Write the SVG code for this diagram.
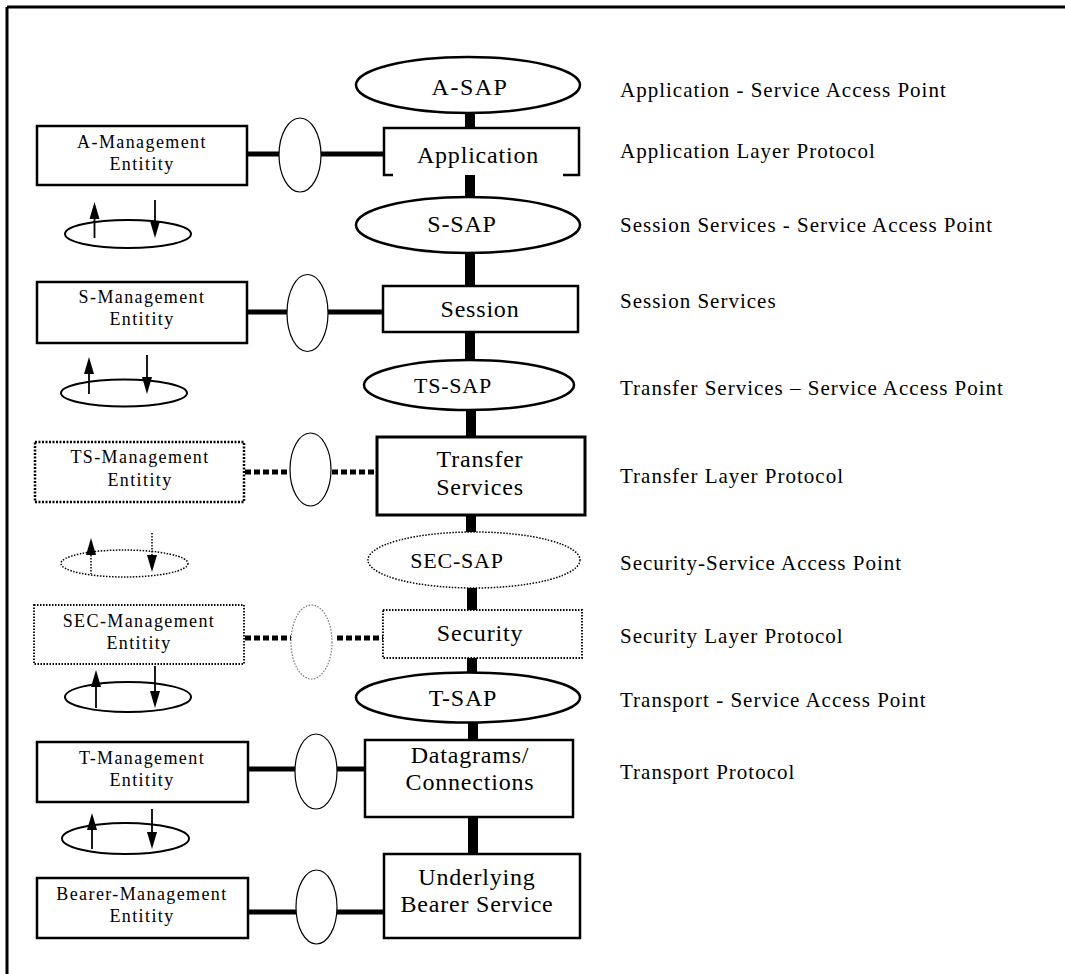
<svg xmlns="http://www.w3.org/2000/svg" width="1065" height="974" viewBox="0 0 1065 974">
<style>
text{font-family:"Liberation Serif","Times New Roman",serif;fill:#000}
.box{fill:#fff;stroke:#000;stroke-width:2.5}
.dbox{fill:#fff;stroke:#000;stroke-width:2.5;stroke-dasharray:2 1.5}
.tbox{fill:#fff;stroke:#000;stroke-width:1.8;stroke-dasharray:1.5 1.5}
.sap{fill:#fff;stroke:#000;stroke-width:2.5}
.dsap{fill:#fff;stroke:#000;stroke-width:1.5;stroke-dasharray:1.5 1.5}
.knot{fill:#fff;stroke:#000;stroke-width:1.2}
.dknot{fill:#fff;stroke:#777;stroke-width:1.2;stroke-dasharray:1.5 1.5}
.loop{fill:none;stroke:#000;stroke-width:2}
.dloop{fill:none;stroke:#000;stroke-width:1.5;stroke-dasharray:1.5 1.5}
.shaft{stroke:#000;stroke-width:1.8}
.dshaft{stroke:#000;stroke-width:1.5;stroke-dasharray:1.5 1.5}
.head{fill:#000}
.vbar{stroke:#000;stroke-width:10}
.hl{stroke:#000;stroke-width:5}
.dl{stroke:#000;stroke-width:5;stroke-dasharray:6 3}
.big{font-size:24px;letter-spacing:0.8px;text-anchor:middle}
.mid{font-size:22px;letter-spacing:0.8px;text-anchor:middle}
.small{font-size:18px;letter-spacing:1.4px;text-anchor:middle}
.lab{font-size:21px;letter-spacing:1px}
</style>
<defs>
<path id="up" d="M0,0 L-5,17 L5,17 Z" class="head"/>
<path id="dn" d="M0,0 L-5,-17 L5,-17 Z" class="head"/>
</defs>
<g id="frame">
<line x1="7" y1="7" x2="1065" y2="7" stroke="#000" stroke-width="3"/>
<line x1="7" y1="7" x2="7" y2="974" stroke="#000" stroke-width="3"/>
</g>
<g id="connectors">
<line class="vbar" x1="470" y1="110" x2="470" y2="130"/>
<line class="vbar" x1="470" y1="172" x2="470" y2="200"/>
<line class="vbar" x1="470" y1="250" x2="470" y2="288"/>
<line class="vbar" x1="470" y1="330" x2="470" y2="362"/>
<line class="vbar" x1="471" y1="408" x2="471" y2="439"/>
<line class="vbar" x1="471" y1="513" x2="471" y2="534"/>
<line class="vbar" x1="472" y1="586" x2="472" y2="612"/>
<line class="vbar" x1="472" y1="656" x2="472" y2="675"/>
<line class="vbar" x1="473" y1="720" x2="473" y2="742"/>
<line class="vbar" x1="473" y1="815" x2="473" y2="856"/>
<line class="hl" x1="247" y1="154" x2="280" y2="154"/>
<line class="hl" x1="320" y1="154" x2="385" y2="154"/>
<line class="hl" x1="247" y1="312" x2="287" y2="312"/>
<line class="hl" x1="328" y1="312" x2="384" y2="312"/>
<line class="dl" x1="245" y1="472" x2="290" y2="472"/>
<line class="dl" x1="332" y1="472" x2="378" y2="472"/>
<line class="dl" x1="245" y1="638" x2="291" y2="638"/>
<line class="dl" x1="337" y1="638" x2="384" y2="638"/>
<line class="hl" x1="248" y1="769" x2="295" y2="769"/>
<line class="hl" x1="337" y1="769" x2="366" y2="769"/>
<line class="hl" x1="248" y1="912" x2="296" y2="912"/>
<line class="hl" x1="337" y1="912" x2="385" y2="912"/>
</g>
<g id="a-sap"><ellipse class="sap" cx="468" cy="85" rx="112" ry="28"/><text class="big" x="470" y="95" style="letter-spacing:1.5px">A-SAP</text></g>
<g id="application"><rect x="384" y="128" width="195" height="47" fill="#fff"/><path d="M393,175 H384 V128 H579 V175 H563" fill="none" stroke="#000" stroke-width="2.5"/><text class="big" x="478" y="163">Application</text></g>
<g id="a-mgmt"><rect class="box" x="37" y="126" width="210" height="59"/><text class="small" x="142" y="148">A-Management</text><text class="small" x="142" y="170">Entitity</text></g>
<g id="a-knot"><ellipse class="knot" cx="300" cy="155" rx="21" ry="37"/></g>
<g id="a-loop"><ellipse class="loop" cx="128" cy="234" rx="63" ry="14"/><line class="shaft" x1="94.5" y1="215" x2="94.5" y2="238"/><use href="#up" x="94.5" y="202"/><line class="shaft" x1="155" y1="200" x2="155" y2="222"/><use href="#dn" x="155" y="238"/></g>
<g id="s-sap"><ellipse class="sap" cx="468" cy="225" rx="112" ry="28"/><text class="big" x="462" y="232">S-SAP</text></g>
<g id="session"><rect class="box" x="383" y="286" width="195" height="46"/><text class="big" x="480" y="317">Session</text></g>
<g id="s-mgmt"><rect class="box" x="37" y="282" width="210" height="61"/><text class="small" x="142" y="303">S-Management</text><text class="small" x="142" y="325">Entitity</text></g>
<g id="s-knot"><ellipse class="knot" cx="307.5" cy="313" rx="20.5" ry="38.5"/></g>
<g id="s-loop"><ellipse class="loop" cx="124" cy="393" rx="63" ry="13.5"/><line class="shaft" x1="89" y1="370" x2="89" y2="394"/><use href="#up" x="89" y="357"/><line class="shaft" x1="147" y1="355" x2="147" y2="378"/><use href="#dn" x="147" y="394"/></g>
<g id="ts-sap"><ellipse class="sap" cx="469" cy="385" rx="105" ry="25"/><text class="mid" x="453" y="393">TS-SAP</text></g>
<g id="transfer"><rect class="box" x="377" y="437" width="208" height="78" style="stroke-width:3"/><text class="big" x="480" y="467">Transfer</text><text class="big" x="480" y="495">Services</text></g>
<g id="ts-mgmt"><rect class="dbox" x="35" y="442" width="209" height="60"/><text class="small" x="140" y="463">TS-Management</text><text class="small" x="140" y="486">Entitity</text></g>
<g id="ts-knot"><ellipse class="knot" cx="310.5" cy="469.5" rx="20.5" ry="36.5"/></g>
<g id="ts-loop"><ellipse class="dloop" cx="124.5" cy="563.5" rx="63.5" ry="13.5"/><line class="dshaft" x1="91" y1="552" x2="91" y2="574"/><use href="#up" x="91" y="538"/><line class="dshaft" x1="152" y1="533" x2="152" y2="556"/><use href="#dn" x="152" y="572"/></g>
<g id="sec-sap"><ellipse class="dsap" cx="474" cy="560" rx="106" ry="28"/><text class="mid" x="457" y="568">SEC-SAP</text></g>
<g id="security"><rect class="tbox" x="383" y="610" width="199" height="48"/><text class="big" x="480" y="641">Security</text></g>
<g id="sec-mgmt"><rect class="tbox" x="34" y="605" width="210" height="59"/><text class="small" x="139" y="627">SEC-Management</text><text class="small" x="139" y="649">Entitity</text></g>
<g id="sec-knot"><ellipse class="dknot" cx="311.5" cy="642" rx="20.5" ry="37"/></g>
<g id="t-loop"><ellipse class="loop" cx="128" cy="697" rx="63" ry="15"/><line class="shaft" x1="96" y1="684" x2="96" y2="708"/><use href="#up" x="96" y="670"/><line class="shaft" x1="155" y1="666" x2="155" y2="692"/><use href="#dn" x="155" y="708"/></g>
<g id="t-sap"><ellipse class="sap" cx="468" cy="697.5" rx="112" ry="25"/><text class="big" x="463" y="706">T-SAP</text></g>
<g id="datagrams"><rect class="box" x="365" y="740" width="208" height="77"/><text class="big" x="470" y="763">Datagrams/</text><text class="big" x="470" y="790">Connections</text></g>
<g id="t-mgmt"><rect class="box" x="37" y="742" width="211" height="60"/><text class="small" x="142" y="764">T-Management</text><text class="small" x="142" y="786">Entitity</text></g>
<g id="t-knot"><ellipse class="knot" cx="316" cy="771.5" rx="21" ry="37.5"/></g>
<g id="bearer-loop"><ellipse class="loop" cx="125.5" cy="838.5" rx="63.5" ry="15.5"/><line class="shaft" x1="92" y1="826" x2="92" y2="849"/><use href="#up" x="92" y="813"/><line class="shaft" x1="152" y1="809" x2="152" y2="832"/><use href="#dn" x="152" y="849"/></g>
<g id="underlying"><rect class="box" x="384" y="854" width="196" height="84"/><text class="big" x="477" y="885">Underlying</text><text class="big" x="477" y="912">Bearer Service</text></g>
<g id="bearer-mgmt"><rect class="box" x="37" y="878" width="211" height="60"/><text class="small" x="142" y="900">Bearer-Management</text><text class="small" x="142" y="922">Entitity</text></g>
<g id="b-knot"><ellipse class="knot" cx="316.5" cy="907" rx="20.5" ry="37"/></g>
<g id="labels">
<text class="lab" x="620" y="97">Application - Service Access Point</text>
<text class="lab" x="620" y="158">Application Layer Protocol</text>
<text class="lab" x="620" y="232">Session Services - Service Access Point</text>
<text class="lab" x="620" y="308">Session Services</text>
<text class="lab" x="620" y="395">Transfer Services – Service Access Point</text>
<text class="lab" x="620" y="483">Transfer Layer Protocol</text>
<text class="lab" x="620" y="570">Security-Service Access Point</text>
<text class="lab" x="620" y="643">Security Layer Protocol</text>
<text class="lab" x="620" y="707">Transport - Service Access Point</text>
<text class="lab" x="620" y="779">Transport Protocol</text>
</g>
</svg>
